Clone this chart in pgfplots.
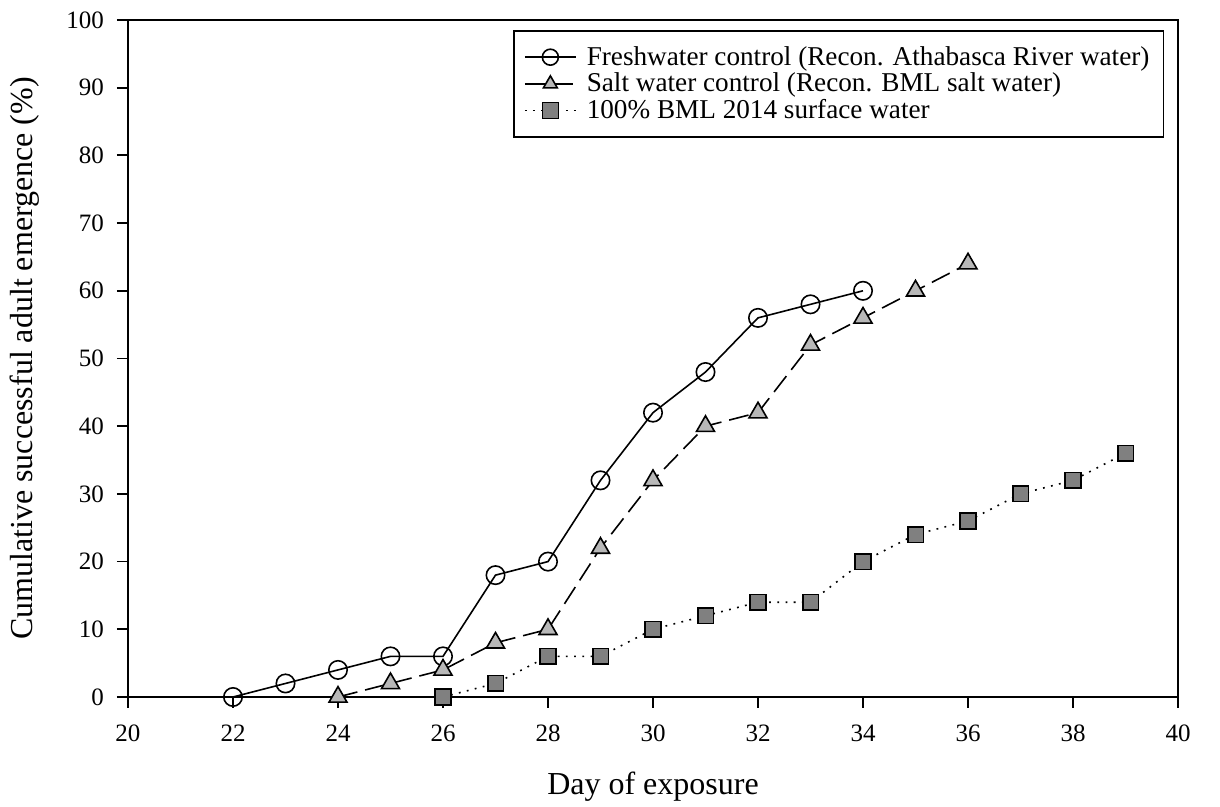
\documentclass[border=0pt]{standalone}
\usepackage{fontspec}
\setmainfont{Liberation Serif}
\usepackage{pgfplots}
\pgfplotsset{compat=1.18}
\begin{document}
\begin{tikzpicture}
\path[use as bounding box] (-64pt,-55pt) rectangle (546pt,348.5pt);
\begin{axis}[
  at={(0pt,0pt)}, anchor=south west,
  scale only axis, width=525pt, height=338.5pt,
  xmin=20, xmax=40, ymin=0, ymax=100,
  xtick={20,22,...,40}, ytick={0,10,...,100},
  xtick pos=bottom, ytick pos=left,
  tick align=outside, major tick length=5.5pt,
  axis line style={line width=0.9pt},
  xtick style={line width=0.9pt, draw=black},
  ytick style={line width=0.9pt, draw=black},
  /pgf/number format/assume math mode=true,
  ticklabel style={font=\fontsize{12.5}{14}\selectfont},
  xticklabel style={yshift=-5pt},
  yticklabel style={xshift=-3pt},
  xlabel={Day of exposure},
  ylabel={Cumulative successful adult emergence (\%)},
  label style={font=\fontsize{16}{18}\selectfont},
  xlabel style={at={(axis description cs:0.5,0)}, anchor=center, yshift=-45pt},
  ylabel style={at={(axis description cs:0,0.5)}, anchor=center, rotate=0, yshift=51.5pt},
  legend style={at={(0.987,0.985)}, anchor=north east, draw=black, line width=0.9pt,
    font=\fontsize{13.6}{15}\selectfont, inner xsep=5pt, inner ysep=7pt, row sep=1.2pt,
    nodes={inner ysep=0.6pt},
    /tikz/every odd column/.append style={column sep=3pt}},
  legend image code/.code={\draw[mark repeat=2,mark phase=2,#1, mark size=4pt] plot coordinates {(0cm,0cm)(0.45cm,0cm)(0.9cm,0cm)};},
  legend cell align=left,
  clip=false,
]
\addplot[black, line width=0.8pt, mark=o, mark size=4.6pt, mark options={fill=white, solid, line width=0.8pt}]
 coordinates {(22,0)(23,2)(24,4)(25,6)(26,6)(27,18)(28,20)(29,32)(30,42)(31,48)(32,56)(33,58)(34,60)};
\addlegendentry{Freshwater control (Recon. Athabasca River water)}
\addplot[black, line width=0.8pt, dash pattern=on 10pt off 4pt, mark=triangle*, mark size=5.2pt, mark options={fill=black!28, solid, line width=0.8pt}]
 coordinates {(24,0)(25,2)(26,4)(27,8)(28,10)(29,22)(30,32)(31,40)(32,42)(33,52)(34,56)(35,60)(36,64)};
\addlegendentry{Salt water control (Recon. BML salt water)}
\addplot[black, line width=0.8pt, dash pattern=on 0.9pt off 3.2pt, mark=square*, mark size=3.9pt, mark options={fill=black!50, solid, line width=0.8pt}]
 coordinates {(26,0)(27,2)(28,6)(29,6)(30,10)(31,12)(32,14)(33,14)(34,20)(35,24)(36,26)(37,30)(38,32)(39,36)};
\addlegendentry{100\% BML 2014 surface water}
\end{axis}
\end{tikzpicture}
\end{document}
